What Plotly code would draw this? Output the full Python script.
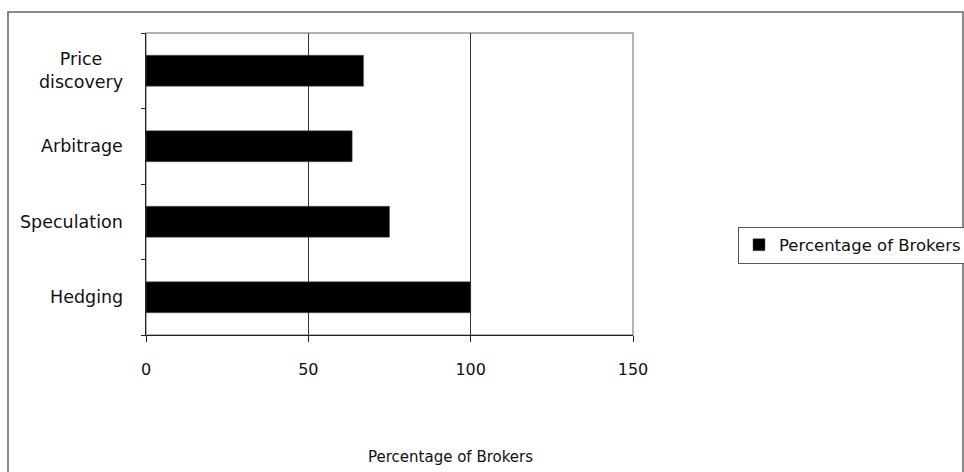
import plotly.graph_objects as go

# Survey data: share of brokers citing each purpose of derivatives trading
categories = ["Hedging", "Speculation", "Arbitrage", "Price<br>discovery"]
percentages = [100, 75, 63.5, 67]
series_name = "Percentage of Brokers"
x_ticks = [0, 50, 100, 150]

W, H = 964, 472
L, R, T, B = 146, 633, 33, 335  # plot-area pixel edges


def px_x(p):
    return (p - L) / (R - L)


def px_y(p):
    return (B - p) / (B - T)


FONT = "DejaVu Sans"

fig = go.Figure()
fig.add_trace(go.Bar(
    y=categories,
    x=percentages,
    orientation="h",
    name=series_name,
    marker=dict(color="#000000", line=dict(color="#555555", width=0.5)),
    showlegend=True,
))

# category labels, centred line by line and right-aligned against the axis
annotations = []
for cat in categories:
    annotations.append(dict(
        x=px_x(125), y=cat, xref="paper", yref="y",
        text=cat, showarrow=False, xanchor="right", yanchor="middle",
        align="center", font=dict(family=FONT, size=17.5, color="#111"),
    ))

# x-axis title
annotations.append(dict(
    x=px_x(450), y=px_y(457), xref="paper", yref="paper",
    text=series_name, showarrow=False, xanchor="center", yanchor="middle",
    font=dict(family=FONT, size=15, color="#111"),
))

shapes = [
    # plot-area frame
    dict(type="rect", xref="paper", yref="paper", x0=0, x1=1, y0=0, y1=1,
         line=dict(color="#9a9a9a", width=1.5), layer="below"),
    # chart-area border
    dict(type="rect", xref="paper", yref="paper",
         x0=px_x(8), x1=px_x(963), y0=px_y(480), y1=px_y(12),
         line=dict(color="#666666", width=1.5), layer="below"),
]

fig.update_layout(
    width=W, height=H,
    margin=dict(l=L, r=W - R, t=T, b=H - B, pad=0, autoexpand=False),
    paper_bgcolor="white", plot_bgcolor="white",
    bargap=0.59,
    font=dict(family=FONT, color="#111"),
    showlegend=True,
    legend=dict(
        x=px_x(738), y=px_y(245), xanchor="left", yanchor="middle",
        bordercolor="#555555", borderwidth=1, bgcolor="white",
        font=dict(family=FONT, size=16.5, color="#111"),
        itemwidth=30, tracegroupgap=0,
    ),
    xaxis=dict(
        range=[0, 150], tickvals=x_ticks, ticktext=[str(v) for v in x_ticks],
        showgrid=True, gridcolor="#333333", gridwidth=1,
        zeroline=False, showline=True, linecolor="#222222", linewidth=1,
        ticks="outside", ticklen=6, tickcolor="#222222",
        ticklabelstandoff=14,
        tickfont=dict(family=FONT, size=16, color="#111"),
    ),
    yaxis=dict(
        type="category", categoryorder="array", categoryarray=categories,
        range=[-0.5, 3.5], tickson="boundaries",
        showticklabels=False, showgrid=False, zeroline=False,
        showline=True, linecolor="#222222", linewidth=1,
        ticks="outside", ticklen=4, tickcolor="#222222",
    ),
    annotations=annotations,
    shapes=shapes,
)

fig.write_html("out.html")
